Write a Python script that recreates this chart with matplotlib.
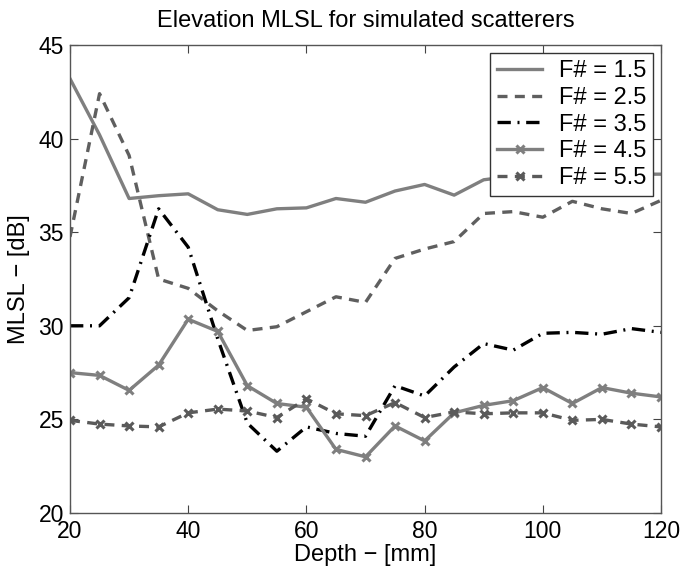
import matplotlib
matplotlib.use("Agg")
import matplotlib.pyplot as plt

plt.rcParams['font.family'] = ['Liberation Sans', 'DejaVu Sans']

depth = [20, 25, 30, 35, 40, 45, 50, 55, 60, 65, 70, 75, 80, 85, 90, 95, 100, 105, 110, 115, 120]

f15 = [43.2, 40.2, 36.8, 36.95, 37.05, 36.2, 35.95, 36.25, 36.3, 36.8, 36.6, 37.2, 37.55, 36.98, 37.8,
       38.0, 38.2, 37.9, 38.3, 38.1, 38.1]
f25 = [34.75, 42.4, 39.1, 32.5, 32.0, 30.8, 29.75, 29.95, 30.75, 31.55, 31.25, 33.6, 34.1, 34.5, 36.0,
       36.1, 35.8, 36.65, 36.25, 36.0, 36.7]
f35 = [30.0, 30.0, 31.5, 36.25, 34.2, 29.3, 24.8, 23.3, 24.6, 24.25, 24.1, 26.8, 26.25, 27.8, 29.05,
       28.7, 29.6, 29.65, 29.55, 29.85, 29.65]
f45 = [27.5, 27.35, 26.55, 27.9, 30.35, 29.7, 26.8, 25.85, 25.65, 23.4, 23.0, 24.65, 23.85, 25.35, 25.75,
       26.0, 26.7, 25.85, 26.7, 26.4, 26.2]
f55 = [24.95, 24.75, 24.65, 24.6, 25.35, 25.55, 25.45, 25.1, 26.1, 25.3, 25.2, 25.9, 25.1, 25.4, 25.3,
       25.35, 25.35, 24.95, 25.0, 24.75, 24.6]

labels = ['F# = 1.5', 'F# = 2.5', 'F# = 3.5', 'F# = 4.5', 'F# = 5.5']

fig = plt.figure(figsize=(6.81, 5.71), dpi=100)
ax = fig.add_axes([70/681, 1 - 513/571, (661 - 70)/681, (513 - 45)/571])

lw = 2.4
ax.plot(depth, f15, color='#7f7f7f', lw=lw, ls='-', label=labels[0])
ax.plot(depth, f25, color='#5f5f5f', lw=lw, ls=(0, (3, 2.2)), label=labels[1])
ax.plot(depth, f35, color='#000000', lw=lw, ls=(0, (4, 2, 0.6, 2)), label=labels[2])
ax.plot(depth, f45, color='#7f7f7f', lw=lw, ls='-', marker='x', ms=6, mew=2.2, label=labels[3])
ax.plot(depth, f55, color='#5a5a5a', lw=lw, ls=(0, (3, 2.2)), marker='x', ms=6, mew=2.2, label=labels[4])

ax.set_xlim(20, 120)
ax.set_ylim(20, 45)
ax.set_xticks([20, 40, 60, 80, 100, 120])
ax.set_yticks([20, 25, 30, 35, 40, 45])
ax.tick_params(direction='in', top=True, right=True, labelsize=16.5, length=6, color='#444444')
ax.tick_params(axis='y', pad=4.5)
ax.tick_params(axis='x', pad=5)
for s in ax.spines.values():
    s.set_color('#555555')
    s.set_linewidth(1.0)

ax.set_xlabel('Depth \u2212 [mm]', fontsize=17, labelpad=1)
ax.set_ylabel('MLSL \u2212 [dB]', fontsize=17, labelpad=6)
ax.set_title('Elevation MLSL for simulated scatterers', fontsize=17, pad=13)

leg = ax.legend(loc='upper right', fontsize=17, frameon=True, fancybox=False, framealpha=1,
                edgecolor='#333333', labelspacing=0.2, handlelength=1.9, handletextpad=0.7,
                borderpad=0.3, borderaxespad=0.34)
leg.get_frame().set_linewidth(1.0)

fig.savefig('out.png', dpi=100)
